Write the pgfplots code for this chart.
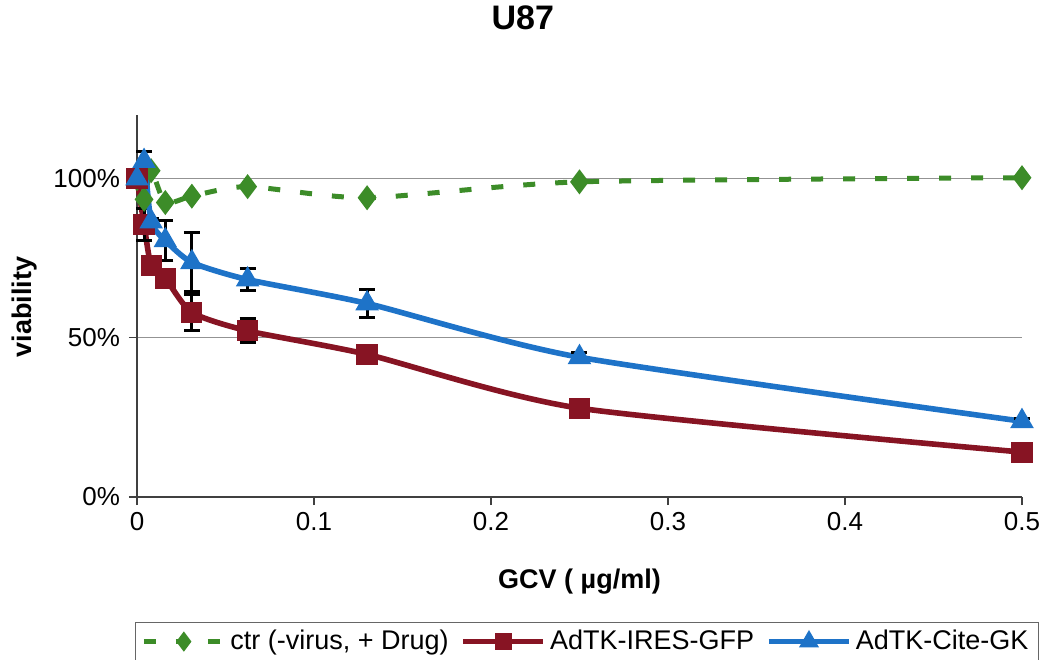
\documentclass[border=0pt]{standalone}
\usepackage{fontspec}
\setmainfont{Liberation Sans}
\usepackage{pgfplots}
\pgfplotsset{compat=1.18}
\definecolor{cgreen}{RGB}{60,140,40}
\definecolor{cred}{RGB}{135,20,35}
\definecolor{cblue}{RGB}{30,115,200}
\begin{document}
\begin{tikzpicture}
\path[use as bounding box] (-68.5bp,-81.5bp) rectangle (453.5bp,248.5bp);
\begin{axis}[
  at={(0,0)}, anchor=south west,
  scale only axis, width=442.5bp, height=191bp,
  xmin=0, xmax=0.5, ymin=0, ymax=120,
  clip=false,
  axis lines*=left,
  axis line style={black!75, line width=0.6bp},
  xtick={0,0.1,0.2,0.3,0.4,0.5}, xticklabels={0,0.1,0.2,0.3,0.4,0.5},
  ytick={0,50,100}, yticklabels={0\%,50\%,100\%},
  ymajorgrids, grid style={gray!85, line width=0.6bp},
  tick align=outside, major tick length=4bp,
  tick style={black!75, line width=0.6bp},
  ticklabel style={font=\fontsize{13bp}{15bp}\selectfont},
  yticklabel style={xshift=-1bp},
  title={U87},
  title style={font=\bfseries\fontsize{17bp}{20bp}\selectfont, at={(axis description cs:0.436,1.2225)}, anchor=center},
  xlabel={GCV ( µg/ml)},
  xlabel style={font=\bfseries\fontsize{13.5bp}{16bp}\selectfont, at={(axis description cs:0.5,-0.2225)}, anchor=center},
  ylabel={viability},
  ylabel style={font=\bfseries\fontsize{13.5bp}{16bp}\selectfont, at={(axis description cs:-0.1266,0.497)}, anchor=center},
  legend columns=3,
  legend style={at={(axis description cs:-0.0023,-0.327)}, anchor=north west,
    draw=black!60, font=\fontsize{13.5bp}{16bp}\selectfont,
    inner xsep=3bp, inner ysep=2bp,
    /tikz/every even column/.append style={column sep=4bp}},
  legend image code/.code={
    \draw[mark repeat=2,mark phase=2,#1, mark size=3bp] plot coordinates {(0bp,0bp) (20bp,0bp) (40bp,0bp)};
  },
]
\addplot[cgreen, line width=2.5bp, dash pattern=on 6bp off 10bp, smooth, tension=0.4,
  mark=diamond*, mark size=4.2bp, mark options={solid, fill=cgreen}]
  coordinates {(0,100) (0.004,93.5) (0.008,102.5) (0.016,92.5) (0.031,94.5) (0.0625,97.5) (0.13,94) (0.25,99) (0.5,100.3)};
\addlegendentry{ctr (-virus, + Drug)}
\addplot[cred, line width=2.8bp, smooth, tension=0.4,
  mark=square*, mark size=3.9bp, mark options={solid, fill=cred},
  error bars/.cd, y dir=both, y explicit,
  error bar style={black, line width=1.5bp},
  error mark options={rotate=90, black, mark size=4bp, line width=1.5bp}]
  coordinates {(0,100) +- (0,0) (0.004,85.6) +- (0,5) (0.008,72.7) +- (0,1) (0.016,68.7) +- (0,1)
    (0.031,58) +- (0,5.6) (0.0625,52.2) +- (0,3.8) (0.13,44.8) +- (0,1.2) (0.25,27.9) +- (0,1) (0.5,14.1) +- (0,1)};
\addlegendentry{AdTK-IRES-GFP}
\addplot[cblue, line width=2.8bp, smooth, tension=0.4,
  mark=triangle*, mark size=4bp, mark options={solid, fill=cblue},
  error bars/.cd, y dir=both, y explicit,
  error bar style={black, line width=1.5bp},
  error mark options={rotate=90, black, mark size=4bp, line width=1.5bp}]
  coordinates {(0,100) +- (0,0) (0.004,105.5) +- (0,3) (0.008,86.5) +- (0,1) (0.016,80.6) +- (0,6.3)
    (0.031,73.7) +- (0,9.3) (0.0625,68.3) +- (0,3.5) (0.13,60.8) +- (0,4.4) (0.25,43.9) +- (0,1.6) (0.5,23.8) +- (0,1)};
\addlegendentry{AdTK-Cite-GK}
\end{axis}
\end{tikzpicture}
\end{document}
